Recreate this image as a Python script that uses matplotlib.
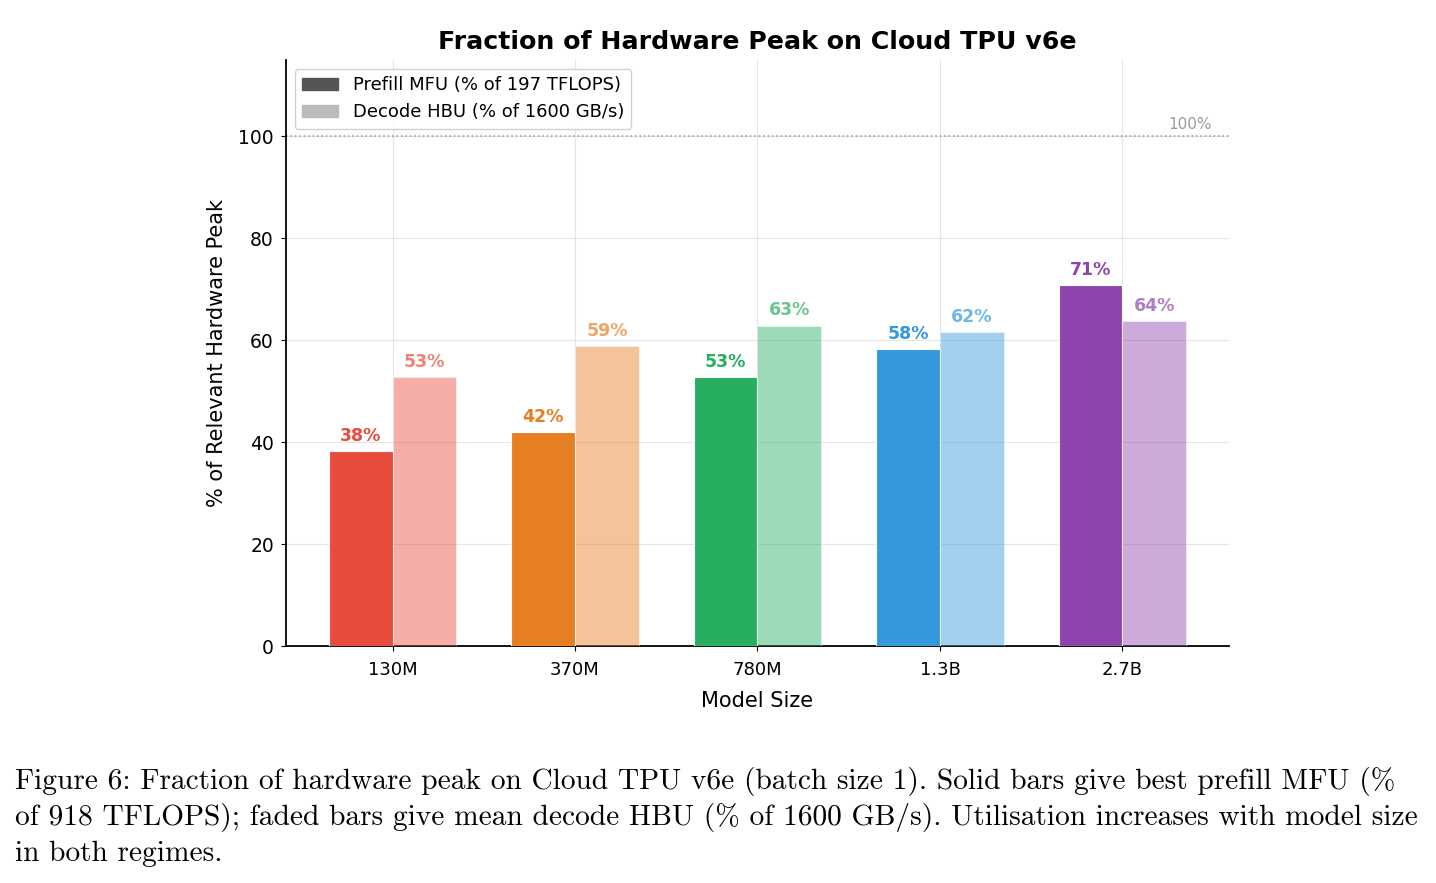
# TPU v6e 上のハードウェアピーク比率（prefill MFU / decode HBU）
import numpy as np
import matplotlib
matplotlib.use('Agg')
import matplotlib.pyplot as plt

models = ['130M', '370M', '780M', '1.3B', '2.7B']
prefill_mfu = [38.3, 42.0, 52.8, 58.3, 70.9]
decode_hbu = [52.8, 58.9, 62.9, 61.7, 63.8]
colors = ['#e74c3c', '#e67e22', '#27ae60', '#3498db', '#8e44ad']

caption_lines = [
    'Figure 6: Fraction of hardware peak on Cloud TPU v6e (batch size 1). Solid bars give best prefill MFU (%',
    'of 918 TFLOPS); faded bars give mean decode HBU (% of 1600 GB/s). Utilisation increases with model size',
    'in both regimes.',
]

fig = plt.figure(figsize=(14.36, 8.83), dpi=100)
ax = fig.add_axes([0.199, 0.2684, 0.657, 0.6636])

x = np.arange(len(models))
w = 0.35
for i in range(len(models)):
    ax.bar(x[i] - w/2, prefill_mfu[i], w, color=colors[i], edgecolor='white', linewidth=0.8, zorder=3)
    ax.bar(x[i] + w/2, decode_hbu[i], w, color=colors[i], alpha=0.45, edgecolor='white', linewidth=0.8, zorder=3)
    ax.text(x[i] - w/2, prefill_mfu[i] + 1.2, '{:.0f}%'.format(prefill_mfu[i]), ha='center', va='bottom',
            fontsize=12.5, fontweight='bold', color=colors[i])
    ax.text(x[i] + w/2, decode_hbu[i] + 1.2, '{:.0f}%'.format(decode_hbu[i]), ha='center', va='bottom',
            fontsize=12.5, fontweight='bold', color=colors[i], alpha=0.7)

ax.axhline(100, color='gray', linestyle=':', linewidth=1.2, alpha=0.7, zorder=2)
ax.text(4.37, 100.9, '100%', ha='center', va='bottom', fontsize=11, color='gray', alpha=0.8)

ax.set_xticks(x)
ax.set_xticklabels(models, fontsize=13)
ax.tick_params(axis='x', pad=7)
ax.tick_params(axis='y', labelsize=13.5, pad=5)
ax.set_ylim(0, 115)
ax.set_yticks([0, 20, 40, 60, 80, 100])
ax.set_xlabel('Model Size', fontsize=15, labelpad=9)
ax.set_ylabel('% of Relevant Hardware Peak', fontsize=15, labelpad=8)
ax.set_title('Fraction of Hardware Peak on Cloud TPU v6e', fontsize=18.2, fontweight='bold', pad=8)
ax.grid(True, color='#cccccc', alpha=0.5, linewidth=0.8, zorder=0)
ax.set_axisbelow(True)
ax.spines['top'].set_visible(False)
ax.spines['right'].set_visible(False)
ax.spines['left'].set_linewidth(1.3)
ax.spines['bottom'].set_linewidth(1.3)

h1 = plt.Rectangle((0, 0), 1, 1, color='#555555')
h2 = plt.Rectangle((0, 0), 1, 1, color='#bbbbbb')
ax.legend([h1, h2], ['Prefill MFU (% of 197 TFLOPS)', 'Decode HBU (% of 1600 GB/s)'],
          loc='upper left', fontsize=13, framealpha=0.9)

for k, line in enumerate(caption_lines):
    fig.text(0.0105, 0.107 - k*0.0408, line, fontsize=21.2, family='cmr10', ha='left', va='baseline')

fig.savefig('out.png', dpi=100)
